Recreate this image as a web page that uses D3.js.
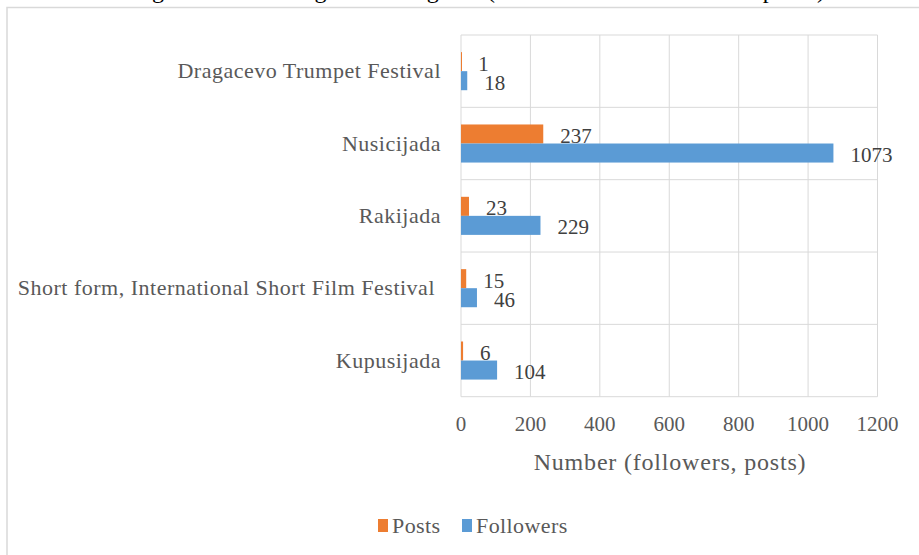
<!DOCTYPE html>
<html>
<head>
<meta charset="utf-8">
<script src="https://cdn.jsdelivr.net/npm/d3@7"></script>
<style>
  body { margin: 0; background: #fff; }
  svg { display: block; }
  text { font-family: "Liberation Serif", "Times New Roman", serif; }
</style>
</head>
<body>
<svg id="chart"></svg>
<script>
// categories top to bottom
const categories = [
  "Dragacevo Trumpet Festival",
  "Nusicijada",
  "Rakijada",
  "Short form, International Short Film Festival ",
  "Kupusijada"
];
const series = ["Posts", "Followers"];
const posts = [1, 237, 23, 15, 6];
const followers = [18, 1073, 229, 46, 104];
const xTicks = [0, 200, 400, 600, 800, 1000, 1200];
const colors = { Posts: "#ED7D31", Followers: "#5B9BD5" };

const width = 919, height = 555;
const svg = d3.select("#chart").attr("width", width).attr("height", height);

// caption, mostly cut off at the top of the picture
svg.append("text")
  .attr("x", 478).attr("y", -2)
  .attr("text-anchor", "middle")
  .attr("font-size", 24)
  .attr("letter-spacing", 1)
  .attr("fill", "#000")
  .text("Figure 3. The usage of Instagram (number of followers and posts)");

// chart frame
svg.append("path")
  .attr("d", "M7,560 V7.5 H925")
  .attr("fill", "none")
  .attr("stroke", "#d9d9d9")
  .attr("stroke-width", 1.5);

const x = d3.scaleLinear().domain([0, 1200]).range([461, 877.5]);
const y = d3.scaleBand().domain(categories).range([35, 396.7]);
const inner = d3.scaleBand().domain(series).range([0, y.bandwidth()]).paddingOuter(0.9);

// gridlines
svg.append("g").selectAll("line").data(xTicks).join("line")
  .attr("x1", d => x(d)).attr("x2", d => x(d))
  .attr("y1", y.range()[0]).attr("y2", y.range()[1])
  .attr("stroke", "#d9d9d9").attr("stroke-width", 1);

const yLines = categories.map(c => y(c)).concat([y.range()[1]]);
svg.append("g").selectAll("line").data(yLines).join("line")
  .attr("x1", x(0)).attr("x2", x(1200))
  .attr("y1", d => d).attr("y2", d => d)
  .attr("stroke", "#d9d9d9").attr("stroke-width", 1);

// rows
const rows = categories.map((c, i) => ({ cat: c, Posts: posts[i], Followers: followers[i] }));

const g = svg.append("g").selectAll("g").data(rows).join("g")
  .attr("transform", d => `translate(0,${y(d.cat)})`);

g.selectAll("rect").data(d => series.map(s => ({ s: s, v: d[s] }))).join("rect")
  .attr("x", x(0))
  .attr("y", d => inner(d.s))
  .attr("width", d => Math.max(x(d.v) - x(0), 1))
  .attr("height", inner.bandwidth())
  .attr("fill", d => colors[d.s]);

g.selectAll("text.val").data(d => series.map(s => ({ s: s, v: d[s] }))).join("text")
  .attr("class", "val")
  .attr("x", d => x(d.v) + 17)
  .attr("y", d => inner(d.s) + inner.bandwidth() / 2 + 9)
  .attr("font-size", 21)
  .attr("fill", "#404040")
  .text(d => d.v);

// category labels
svg.append("g").selectAll("text").data(categories).join("text")
  .attr("x", 441)
  .attr("y", d => y(d) + y.bandwidth() / 2 + 7)
  .attr("text-anchor", "end")
  .attr("font-size", 22)
  .attr("letter-spacing", 0.5)
  .attr("fill", "#595959")
  .style("white-space", "pre")
  .text(d => d);

// x tick labels
svg.append("g").selectAll("text").data(xTicks).join("text")
  .attr("x", d => x(d))
  .attr("y", 431)
  .attr("text-anchor", "middle")
  .attr("font-size", 21)
  .attr("fill", "#595959")
  .text(d => d);

svg.append("text")
  .attr("x", 670).attr("y", 470)
  .attr("text-anchor", "middle")
  .attr("font-size", 24)
  .attr("letter-spacing", 0.8)
  .attr("fill", "#595959")
  .text("Number (followers, posts)");

// legend
const legX = { Posts: 378, Followers: 462 };
const leg = svg.append("g").selectAll("g").data(series).join("g")
  .attr("transform", d => `translate(${legX[d]},526)`);
leg.append("rect").attr("x", 0).attr("y", -7).attr("width", 10).attr("height", 13)
  .attr("fill", d => colors[d]);
leg.append("text").attr("x", 14).attr("y", 7)
  .attr("font-size", 22).attr("letter-spacing", 0.4).attr("fill", "#595959")
  .text(d => d);
</script>
</body>
</html>
